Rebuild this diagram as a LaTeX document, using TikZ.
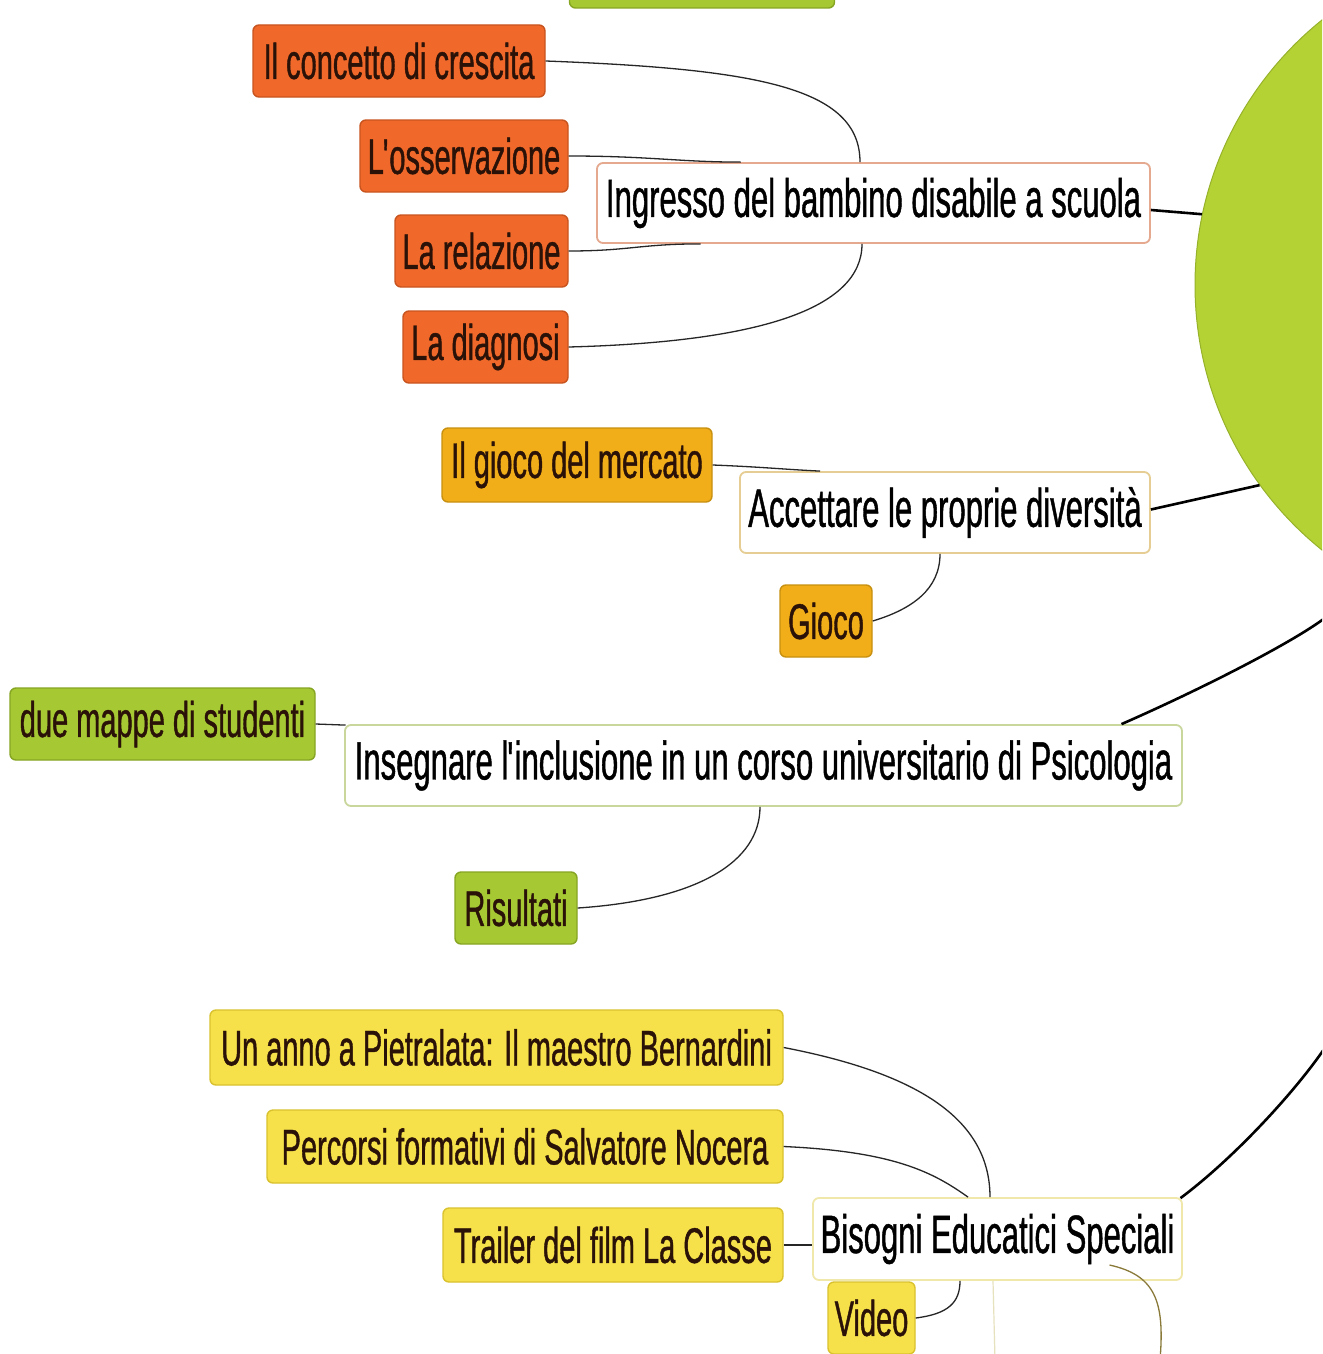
\documentclass[tikz,border=0pt]{standalone}
\usepackage{fontspec}
\setmainfont{Liberation Sans}
\newfontfamily\childfont[FakeStretch=0.58,FakeBold=0.8]{Liberation Sans}
\newfontfamily\parentfont[FakeStretch=0.575,FakeBold=0.8]{Liberation Sans}
\newcommand{\apos}{\kern-1pt\textquotesingle\kern-3pt}
\definecolor{orfill}{HTML}{F0692A}
\definecolor{ordraw}{HTML}{C8541F}
\definecolor{amfill}{HTML}{F2AE18}
\definecolor{amdraw}{HTML}{C89010}
\definecolor{grfill}{HTML}{A6C933}
\definecolor{grdraw}{HTML}{86A523}
\definecolor{yefill}{HTML}{F6E14B}
\definecolor{yedraw}{HTML}{D9C22E}
\definecolor{circfill}{HTML}{B4D233}
\definecolor{circdraw}{HTML}{96B22A}
\definecolor{olive}{HTML}{8A7A3A}
\definecolor{faint}{HTML}{E6E2BE}
\definecolor{darktext}{HTML}{2A1208}
\begin{document}
\begin{tikzpicture}[x=1pt,y=-1pt,
  box/.style={rounded corners=6pt, line width=1.4pt, inner sep=0pt, align=center},
  cbox/.style={box, text=darktext, font=\childfont\fontsize{50}{58}\selectfont},
  obox/.style={cbox, fill=orfill, draw=ordraw},
  abox/.style={cbox, fill=amfill, draw=amdraw},
  gbox/.style={cbox, fill=grfill, draw=grdraw},
  ybox/.style={cbox, fill=yefill, draw=yedraw},
  wbox/.style={box, fill=white, line width=1.8pt, text=black, font=\parentfont\fontsize{54}{62}\selectfont},
  sub/.style={line width=1.3pt, black!85},
  mainlink/.style={line width=2.6pt, black}]
\useasboundingbox (0,0) rectangle (1322,1354);
\clip (0,0) rectangle (1322,1354);
\fill[white] (0,0) rectangle (1322,1354);

% central circle
\node[circle, fill=circfill, draw=circdraw, line width=1pt, minimum size=680pt, inner sep=0pt] (centre) at (1535,285) {};

% top green box (cut off)
\node[gbox, minimum width=265pt, minimum height=58pt] (topg) at (702,-21) {};

% orange group
\node[obox, minimum width=292pt, minimum height=72pt] (conc) at (399,61) {Il concetto di crescita};
\node[obox, minimum width=208pt, minimum height=72pt] (oss) at (464,156) {L\apos osservazione};
\node[obox, minimum width=173pt, minimum height=72pt] (rel) at (481.5,251) {La relazione};
\node[obox, minimum width=165pt, minimum height=72pt] (diag) at (485.5,347) {La diagnosi};
\node[wbox, draw=ordraw!50, minimum width=553pt, minimum height=80pt] (ingr) at (873.5,203) {Ingresso del bambino disabile a scuola};

% amber group
\node[abox, minimum width=270pt, minimum height=74pt] (merc) at (577,465) {Il gioco del mercato};
\node[abox, minimum width=92pt, minimum height=72pt] (gioco) at (826,621) {Gioco};
\node[wbox, draw=amdraw!45, minimum width=410pt, minimum height=81pt] (acc) at (945,512.5) {Accettare le proprie diversità};

% green group
\node[gbox, minimum width=305pt, minimum height=72pt] (due) at (162.5,724) {due mappe di studenti};
\node[wbox, draw=grdraw!45, minimum width=837pt, minimum height=81pt] (ins) at (763.5,765.5) {Insegnare l\apos inclusione in un corso universitario di Psicologia};
\node[gbox, minimum width=122pt, minimum height=72pt] (ris) at (516,908) {Risultati};

% yellow group
\node[ybox, minimum width=573pt, minimum height=75pt] (piet) at (496.5,1047.5) {Un anno a Pietralata: Il maestro Bernardini};
\node[ybox, minimum width=516pt, minimum height=73pt] (perc) at (525,1146.5) {Percorsi formativi di Salvatore Nocera};
\node[ybox, minimum width=340pt, minimum height=74pt] (trail) at (613,1245) {Trailer del film La Classe};
\node[wbox, draw=yedraw!40, minimum width=369pt, minimum height=82pt] (bes) at (997.5,1239) {Bisogni Educatici Speciali};
\node[ybox, minimum width=87pt, minimum height=72pt] (video) at (871.5,1318) {Video};

% free ends at the right edge
\coordinate (edgeA) at (1330,614);
\coordinate (edgeB) at (1330,1040);
\coordinate (botA) at (1160,1360);
\coordinate (botB) at (995,1360);

% sub links
\draw[sub] (conc.east) .. controls +(210,8) and +(0,-75) .. ([xshift=-13.5pt]ingr.north);
\draw[sub] (oss.east) .. controls +(80,0) and +(-60,0) .. ([xshift=-133pt]ingr.north);
\draw[sub] (rel.east) .. controls +(60,0) and +(-60,0) .. ([xshift=-173pt]ingr.south);
\draw[sub] (diag.east) .. controls +(190,-5) and +(0,65) .. ([xshift=-11.5pt]ingr.south);

\draw[sub] (merc.east) .. controls +(50,2) and +(-40,-2) .. ([xshift=-125pt]acc.north);
\draw[sub] (gioco.east) .. controls +(40,-12) and +(0,35) .. ([xshift=-5pt]acc.south);

\draw[sub] (due.east) -- ([xshift=-418pt,yshift=-1pt]ins.north);
\draw[sub] (ris.east) .. controls +(120,-8) and +(0,55) .. ([xshift=-3.5pt]ins.south);

\draw[sub] (piet.east) .. controls +(130,25) and +(0,-80) .. ([xshift=-7.5pt]bes.north);
\draw[sub] (perc.east) .. controls +(110,5) and +(-35,-25) .. ([xshift=-29.5pt]bes.north);
\draw[sub] (trail.east) -- ([yshift=-6pt]bes.west);
\draw[sub] (video.east) .. controls +(32,-4) and +(0,22) .. ([xshift=-37.5pt]bes.south);

% main links
\draw[mainlink] ([yshift=-7pt]ingr.east) -- (centre.168);
\draw[mainlink] ([yshift=3pt]acc.east) -- (centre.216);
\draw[mainlink] ([xshift=358pt]ins.north) .. controls +(80,-35) and +(-30,25) .. (edgeA);
\draw[mainlink] ([xshift=183pt,yshift=-1pt]bes.north) .. controls +(60,-45) and +(-25,40) .. (edgeB);

% bottom strokes
\draw[olive, line width=1.3pt] ([xshift=112pt,yshift=-26pt]bes.center) .. controls +(45,10) and +(5,-60) .. (botA);
\draw[faint, line width=1.2pt] ([xshift=-4.5pt]bes.south) -- (botB);
\end{tikzpicture}
\end{document}
